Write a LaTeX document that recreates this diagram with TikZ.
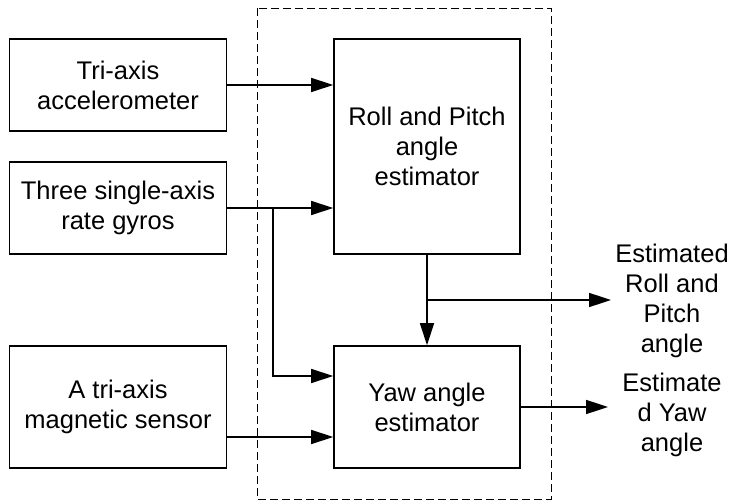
\documentclass[tikz,border=0pt]{standalone}
\usepackage{fontspec}
\setmainfont{Liberation Sans}
\usetikzlibrary{arrows.meta,calc}

\tikzset{
  block/.style={draw, line width=1.6pt, align=center, inner sep=0pt},
  arr/.style={line width=1.6pt, -{Triangle[length=22pt,width=14pt]}},
  txt/.style={font=\fontsize{25.5}{30}\selectfont}
}

\begin{document}
\begin{tikzpicture}[x=1pt,y=-1pt,txt]
  % Parameters
  \def\Wi{217}   % width of the sensor blocks
  \def\We{186}   % width of the estimator blocks

  \useasboundingbox (0,0) rectangle (731,502);

  % Sensors
  \node[block, minimum width=\Wi, minimum height=92] (acc) at (118,85)
    {Tri-axis\\accelerometer};
  \node[block, minimum width=\Wi, minimum height=92] (gyro) at (118,208)
    {Three single-axis\\rate gyros};
  \node[block, minimum width=\Wi, minimum height=122] (mag) at (118,407)
    {A tri-axis\\magnetic sensor};

  % Estimators
  \node[block, minimum width=\We, minimum height=215] (roll) at (427,146.5)
    {Roll and Pitch\\angle\\estimator};
  \node[block, minimum width=\We, minimum height=122] (yaw) at (427,407)
    {Yaw angle\\estimator};

  % Dashed frame round the estimators
  \draw[dash pattern=on 8pt off 4pt, line width=0.9pt] (257,8) rectangle (551,499);

  % Outputs
  \node[align=center] (rpout) at (672,301) {Estimated\\Roll and\\Pitch\\angle};
  \node[align=center] (yawout) at (672,415) {Estimate\\d Yaw\\angle};

  % Coordinates
  \coordinate (gsplit) at (273,208);
  \coordinate (rsplit) at (427,300);
  \coordinate (rpend) at (611,300);
  \coordinate (yawend) at (608,407);

  \draw[arr] (acc.east) -- (acc.east -| roll.west);
  \draw[arr] (gyro.east) -- (gyro.east -| roll.west);
  \draw[arr] (gsplit) |- ($(yaw.west)+(0,-31)$);
  \draw[arr] ($(mag.east)+(0,30)$) -- ($(yaw.west)+(0,30)$);
  \draw[arr] (roll.south) -- (yaw.north);
  \draw[arr] (rsplit) -- (rpend);
  \draw[arr] (yaw.east |- yawend) -- (yawend);
\end{tikzpicture}
\end{document}
